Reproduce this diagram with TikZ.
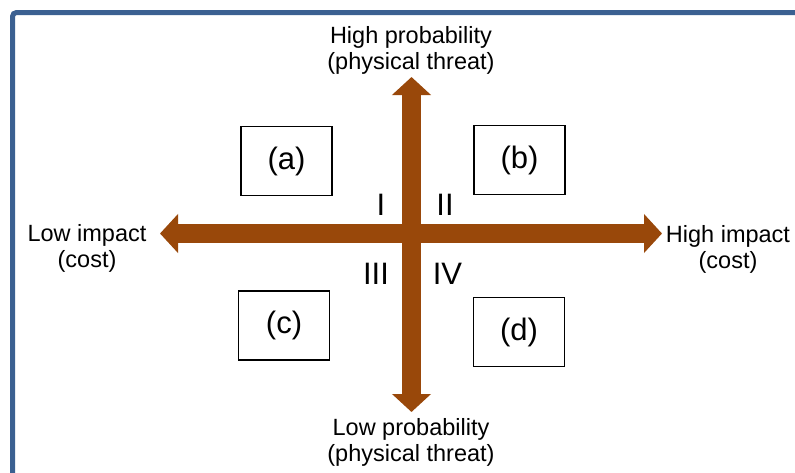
\documentclass[tikz,border=0pt]{standalone}
\usepackage{fontspec}
\setmainfont{Liberation Sans}
\usetikzlibrary{arrows.meta}

\definecolor{framecol}{RGB}{59,96,145}
\definecolor{axiscol}{RGB}{153,72,10}

\begin{document}
\begin{tikzpicture}[x=1pt, y=-1pt,
    axis/.style={line width=19pt, draw=axiscol,
        {Triangle[width=38pt,length=18pt]}-{Triangle[width=38pt,length=18pt]}},
    quadbox/.style={draw, line width=1.3pt, minimum width=91pt, minimum height=69pt,
        font=\fontsize{31}{36}\selectfont},
    roman/.style={font=\fontsize{31}{36}\selectfont},
    axislabel/.style={align=center, font=\fontsize{23.5}{26}\selectfont}]
    \useasboundingbox (0,0) rectangle (795,472);

    % --- Slide frame (runs off the right and bottom edge) ---
    \begin{scope}
        \clip (0,0) rectangle (795,472);
        \draw[framecol, line width=5pt, rounded corners=4pt]
            (12.5,12.5) rectangle (830,510);
    \end{scope}

    % --- Axis end points ---
    \coordinate (west) at (160,233.5);
    \coordinate (east) at (662,233.5);
    \coordinate (north) at (411.5,77);
    \coordinate (south) at (411.5,412);

    % --- Axes ---
    \draw[axis] (west) -- (east);
    \draw[axis] (south) -- (north);

    % --- Axis labels ---
    \node[axislabel] (highprob) at (411,50) {High probability\\(physical threat)};
    \node[axislabel] (lowprob) at (411,442) {Low probability\\(physical threat)};
    \node[axislabel] (lowimp) at (87,248) {Low impact\\(cost)};
    \node[axislabel] (highimp) at (728,249) {High impact\\(cost)};

    % --- Quadrant numbers ---
    \node[roman] (q1) at (381,205) {I};
    \node[roman] (q2) at (445,205) {II};
    \node[roman] (q3) at (376,273.5) {III};
    \node[roman] (q4) at (447.5,273.5) {IV};

    % --- Quadrant boxes ---
    \node[quadbox] (boxa) at (286.5,161) {(a)};
    \node[quadbox] (boxb) at (519.5,160) {(b)};
    \node[quadbox] (boxc) at (284,325.5) {(c)};
    \node[quadbox] (boxd) at (519,332) {(d)};

\end{tikzpicture}
\end{document}
